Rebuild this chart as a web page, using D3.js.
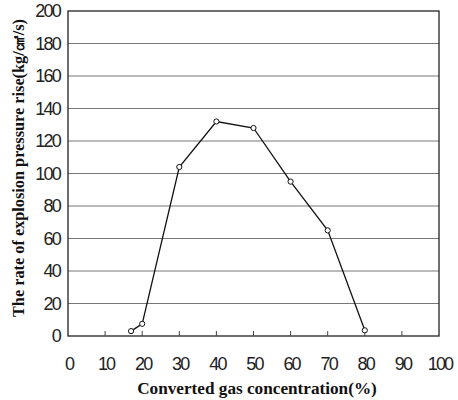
<!DOCTYPE html>
<html><head><meta charset="utf-8">
<script src="https://cdn.jsdelivr.net/npm/d3@7"></script>
<style>body{margin:0;background:#fff}</style>
</head><body>
<svg id="c" width="458" height="400"></svg>
<script>
const concentration = [17, 20, 30, 40, 50, 60, 70, 80];
const rate = [3, 7.5, 104, 132, 128, 95, 65, 3.5];
const xTicks = [0,10,20,30,40,50,60,70,80,90,100];
const yTicks = [0,20,40,60,80,100,120,140,160,180,200];
const xTitle = "Converted gas concentration(%)";
const yTitle = "The rate of explosion pressure rise(kg/㎠/s)";

const svg = d3.select("#c");
const L = 68, R = 439, T = 11, B = 336;
const x = d3.scaleLinear().domain([0,100]).range([L,R]);
const y = d3.scaleLinear().domain([0,200]).range([B,T]);
const tickFont = "'Liberation Sans Narrow','Arial Narrow',sans-serif";
const titleFont = "'Liberation Serif','Times New Roman',serif";

// gridlines
svg.append("g").selectAll("line").data(yTicks.filter(d=>d>0 && d<200)).join("line")
  .attr("x1",L).attr("x2",R).attr("y1",d=>y(d)).attr("y2",d=>y(d))
  .attr("stroke","#777").attr("stroke-width",1);

// frame
svg.append("rect").attr("x",L).attr("y",T).attr("width",R-L).attr("height",B-T)
  .attr("fill","none").attr("stroke","#222").attr("stroke-width",1.3);

// x ticks (inside)
svg.append("g").selectAll("line").data(xTicks.filter(d=>d>0&&d<100)).join("line")
  .attr("x1",d=>x(d)).attr("x2",d=>x(d)).attr("y1",B).attr("y2",B-5)
  .attr("stroke","#444").attr("stroke-width",1);

// y tick labels
svg.append("g").selectAll("text").data(yTicks).join("text")
  .attr("x",L-8).attr("y",d=>y(d)).attr("dy","0.36em")
  .attr("text-anchor","end").attr("font-family",tickFont).attr("font-size",18)
  .attr("letter-spacing","-1.8").attr("fill","#222").text(d=>d);

// x tick labels
svg.append("g").selectAll("text").data(xTicks).join("text")
  .attr("x",d=>x(d)+1).attr("y",B+34)
  .attr("text-anchor","middle").attr("font-family",tickFont).attr("font-size",18)
  .attr("letter-spacing","-1.8").attr("fill","#222").text(d=>d);

// line
const pts = concentration.map((c,i)=>[c,rate[i]]);
svg.append("path").datum(pts)
  .attr("d",d3.line().x(d=>x(d[0])).y(d=>y(d[1])))
  .attr("fill","none").attr("stroke","#111").attr("stroke-width",1.3);

svg.append("g").selectAll("circle").data(pts).join("circle")
  .attr("cx",d=>x(d[0])).attr("cy",d=>y(d[1])).attr("r",2.6)
  .attr("fill","#fff").attr("stroke","#111").attr("stroke-width",1);

// titles
svg.append("text").attr("x",257).attr("y",394).attr("text-anchor","middle")
  .attr("font-family",titleFont).attr("font-weight","bold").attr("font-size",17.2)
  .attr("fill","#111").text(xTitle);
svg.append("text").attr("transform",`translate(24,168) rotate(-90)`)
  .attr("text-anchor","middle")
  .attr("font-family",titleFont).attr("font-weight","bold").attr("font-size",16.3)
  .attr("fill","#111").text(yTitle);
</script>
</body></html>
